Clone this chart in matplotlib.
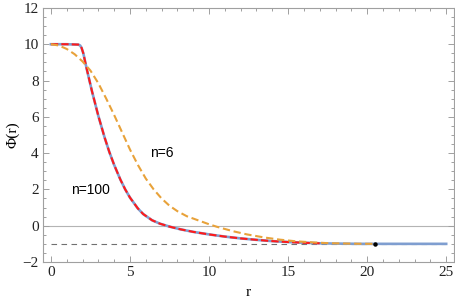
import numpy as np
import matplotlib.pyplot as plt
from matplotlib.ticker import MultipleLocator

# values
r_n100 = [0, 1.0, 1.73, 1.85, 1.94, 2.05, 2.26, 2.6, 3.0, 3.4, 3.7, 4.0, 4.4,
          4.7, 5.0, 5.5, 5.84, 6.4, 6.9, 7.5, 8.2, 9.0, 10.0, 11.0, 12.0, 13.0,
          14.0, 15.0, 16.0, 17.0, 18.0, 19.5, 21, 23, 25]
phi_n100 = [10, 10, 9.98, 9.93, 9.8, 9.5, 8.66, 7.4, 6.05, 4.85, 4.05, 3.35, 2.53,
            2.0, 1.55, 0.95, 0.64, 0.3, 0.11, -0.05, -0.2, -0.34, -0.48, -0.6,
            -0.7, -0.78, -0.85, -0.9, -0.94, -0.97, -0.985, -1.0, -1.0, -1.0, -1.0]

r_n6 = [0, 0.5, 1.0, 1.5, 2.0, 2.5, 3.0, 3.5, 4.0, 4.5, 5.0, 5.5, 6.0, 6.5, 7.0,
        7.5, 8.0, 8.6, 9.3, 10.0, 10.5, 11.5, 12.4, 13.5, 14.5, 15.5, 16.6, 17.5,
        18.5, 19.5, 20.5]
phi_n6 = [10, 9.93, 9.74, 9.45, 9.05, 8.55, 7.85, 7.0, 6.1, 5.15, 4.2, 3.35, 2.6,
          2.0, 1.5, 1.1, 0.8, 0.52, 0.3, 0.08, -0.06, -0.3, -0.48, -0.65, -0.77,
          -0.86, -0.92, -0.96, -0.98, -0.995, -1.0]

r_end = 17.2   # red dashed n=100 stops here
dot = (20.5, -1.0)
phi_inf = -1.0

fig = plt.figure(figsize=(4.55, 3.05), dpi=100)
ax = fig.add_axes([0.0945, 0.141, 0.9035, 0.833])

ax.axhline(0, color='#b4b4b4', lw=0.8, zorder=1)
ax.plot([0, 25], [phi_inf, phi_inf], color='#707070', lw=0.8, ls=(0, (5, 4)), zorder=2)

ax.plot(r_n100, phi_n100, color='#7f9ed0', lw=1.9, zorder=3)
r100 = np.array(r_n100)
keep = r100 <= r_end
ax.plot(r100[keep], np.array(phi_n100)[keep], color='#ff1a1a', lw=1.5,
        ls=(0, (3.5, 1.5)), zorder=4)
ax.plot(r_n6, phi_n6, color='#e8a23a', lw=1.5, ls=(0, (3.5, 1.8)), zorder=5)
ax.plot(*dot, 'o', color='black', ms=2.2, zorder=6)

ax.text(2.5, 1.95, 'n=100', family='Liberation Sans', fontsize=10,
        ha='center', va='center')
ax.text(7.0, 4.0, 'n=6', family='Liberation Sans', fontsize=10,
        ha='center', va='center')

ax.set_xlim(-0.5, 25.5)
ax.set_ylim(-2, 12)
ax.xaxis.set_major_locator(MultipleLocator(5))
ax.xaxis.set_minor_locator(MultipleLocator(1))
ax.yaxis.set_major_locator(MultipleLocator(2))
ax.yaxis.set_minor_locator(MultipleLocator(0.5))

for s in ax.spines.values():
    s.set_color('#a0a0a0')
    s.set_linewidth(0.8)
ax.tick_params(which='both', direction='in', top=True, right=True,
               color='#a0a0a0', width=0.7)
ax.tick_params(which='major', length=4, labelsize=11, pad=3)
ax.tick_params(which='minor', length=2)
for lab in ax.get_xticklabels() + ax.get_yticklabels():
    lab.set_family('Liberation Serif')
    lab.set_color('#222222')

ax.set_xlabel('r', family='Liberation Serif', fontsize=11, labelpad=5)
ax.set_ylabel('Φ(r)', family='Liberation Serif', fontsize=11, labelpad=2)

fig.savefig('out.png', dpi=100)
